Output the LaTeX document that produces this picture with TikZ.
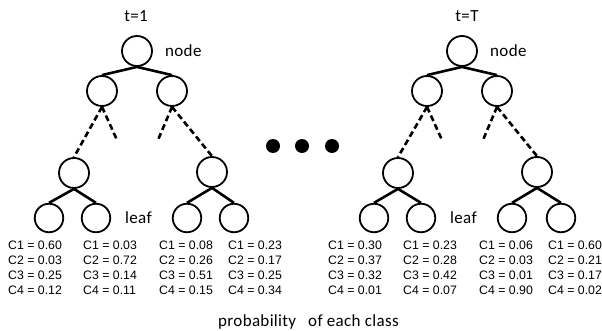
\documentclass[tikz,border=0pt]{standalone}
\usepackage{fontspec}
\setmainfont{Carlito}
\newfontfamily\lblfont[LetterSpace=2]{Carlito}
\newfontfamily\arialfont{Liberation Sans}
\newcommand\probcol[6]{%
  \node[prob] (#2-1) at (#1,249) {#3};
  \node[prob] (#2-2) at (#1,264) {#4};
  \node[prob] (#2-3) at (#1,279) {#5};
  \node[prob] (#2-4) at (#1,294) {#6};
}
\begin{document}
\begin{tikzpicture}[x=1pt,y=-1pt,
  tn/.style={circle,draw,line width=1.8pt,minimum size=30pt,inner sep=0pt},
  ln/.style={circle,draw,line width=1.8pt,minimum size=28.5pt,inner sep=0pt},
  edge/.style={line width=2.6pt},
  dsh/.style={line width=2.6pt,dash pattern=on 6pt off 3.5pt},
  lbl/.style={font=\lblfont\fontsize{17}{20}\selectfont,inner sep=0pt},
  prob/.style={font=\arialfont\fontsize{12.3}{15}\selectfont,inner sep=0pt,anchor=base west}]
\useasboundingbox[fill=white] (0,0) rectangle (602,331);

% ---------- tree t=1 ----------
\node[tn] (r1) at (137,51) {};
\node[tn] (a1) at (102,91) {};
\node[tn] (b1) at (172,91) {};
\node[tn] (c1) at (74,173) {};
\node[tn] (d1) at (212,172) {};
\node[ln] (l11) at (49,218) {};
\node[ln] (l12) at (96,218) {};
\node[ln] (l13) at (187,218) {};
\node[ln] (l14) at (234,218) {};
\coordinate (e1) at (117,140);
\coordinate (f1) at (158,140);
\draw[edge] (r1.south) -- (a1.north) (r1.south) -- (b1.north);
\draw[dsh] (a1.south) -- (c1.north) (a1.south) -- (e1)
           (b1.south) -- (f1) (b1.south) -- (d1.north);
\draw[edge] (c1.south) -- (l11.north) (c1.south) -- (l12.north)
            (d1.south) -- (l13.north) (d1.south) -- (l14.north);
\node[lbl,anchor=base] (t1) at (136,22) {t=1};
\node[lbl,anchor=base west] (n1) at (165,57) {node};
\node[lbl,anchor=base west] (lf1) at (125,223) {leaf};
\probcol{8}{p11}{C1 = 0.60}{C2 = 0.03}{C3 = 0.25}{C4 = 0.12}
\probcol{83}{p12}{C1 = 0.03}{C2 = 0.72}{C3 = 0.14}{C4 = 0.11}
\probcol{159}{p13}{C1 = 0.08}{C2 = 0.26}{C3 = 0.51}{C4 = 0.15}
\probcol{228}{p14}{C1 = 0.23}{C2 = 0.17}{C3 = 0.25}{C4 = 0.34}

% ---------- dots ----------
\fill (273,146) circle (7pt) (302,146) circle (7pt) (332,146) circle (7pt);

% ---------- tree t=T ----------
\node[tn] (r2) at (462,51) {};
\node[tn] (a2) at (427,91) {};
\node[tn] (b2) at (497,91) {};
\node[tn] (c2) at (398,173) {};
\node[tn] (d2) at (537,172) {};
\node[ln] (l21) at (374,218) {};
\node[ln] (l22) at (421,218) {};
\node[ln] (l23) at (512,218) {};
\node[ln] (l24) at (561,218) {};
\coordinate (e2) at (442,140);
\coordinate (f2) at (483,140);
\draw[edge] (r2.south) -- (a2.north) (r2.south) -- (b2.north);
\draw[dsh] (a2.south) -- (c2.north) (a2.south) -- (e2)
           (b2.south) -- (f2) (b2.south) -- (d2.north);
\draw[edge] (c2.south) -- (l21.north) (c2.south) -- (l22.north)
            (d2.south) -- (l23.north) (d2.south) -- (l24.north);
\node[lbl,anchor=base] (t2) at (467,22) {t=T};
\node[lbl,anchor=base west] (n2) at (490,57) {node};
\node[lbl,anchor=base west] (lf2) at (450,223) {leaf};
\probcol{328}{p21}{C1 = 0.30}{C2 = 0.37}{C3 = 0.32}{C4 = 0.01}
\probcol{403}{p22}{C1 = 0.23}{C2 = 0.28}{C3 = 0.42}{C4 = 0.07}
\probcol{479}{p23}{C1 = 0.06}{C2 = 0.03}{C3 = 0.01}{C4 = 0.90}
\probcol{548}{p24}{C1 = 0.60}{C2 = 0.21}{C3 = 0.17}{C4 = 0.02}

\node[lbl,anchor=base west] (cap) at (218,326) {probability\hspace{12pt}of each class};
\end{tikzpicture}
\end{document}
